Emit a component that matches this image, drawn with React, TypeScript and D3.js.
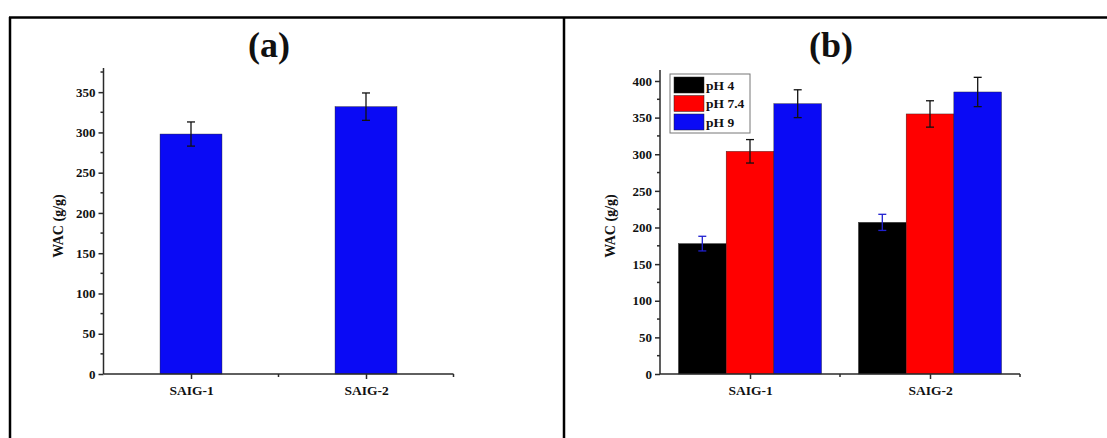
import React, { useEffect, useRef } from "react";
import * as d3 from "d3";

// panel (a): one series
const categories = ["SAIG-1", "SAIG-2"];
const wacA = [298, 332];
const errA = [15, 17];

// panel (b): three pH series
const phLabels = ["pH 4", "pH 7.4", "pH 9"];
const wacPH4 = [178, 207];
const errPH4 = [10, 11];
const wacPH74 = [304, 355];
const errPH74 = [16, 18];
const wacPH9 = [369, 385];
const errPH9 = [19, 20];

const yTicksA = [0, 50, 100, 150, 200, 250, 300, 350];
const yTicksB = [0, 50, 100, 150, 200, 250, 300, 350, 400];

const FONT = "'Liberation Serif', 'Times New Roman', serif";
const AXIS = "#2a2a2a";

type Series = { name: string; values: number[]; errs: number[]; color: string; errColor: string };

function InitializeSVG(svgRef: React.RefObject<SVGSVGElement | null>, width: number, height: number) {
  const svg = d3.select(svgRef.current);
  svg.selectAll("*").remove();
  svg.attr("width", width).attr("height", height);
  svg.append("rect").attr("width", width).attr("height", height).attr("fill", "#fff");
  return svg;
}

function DrawFrames(svg: any) {
  // panel borders
  const g = svg.append("g").attr("stroke", "#000").attr("stroke-width", 2.5);
  g.append("line").attr("x1", 9).attr("x2", 1107).attr("y1", 17.5).attr("y2", 17.5);
  g.append("line").attr("x1", 10).attr("x2", 10).attr("y1", 17).attr("y2", 438);
  g.append("line").attr("x1", 564).attr("x2", 564).attr("y1", 17).attr("y2", 438);
}

function DrawPanel(
  svg: any,
  opts: {
    xRange: [number, number];
    yMax: number;
    yTop: number;
    yTicks: number[];
    series: Series[];
    groupWidth: number;
    title: string;
    titleX: number;
    labelX: number;
  }
) {
  const y0 = 374;
  const x = d3.scaleLinear().domain([0.5, 2.5]).range(opts.xRange);
  const y = d3.scaleLinear().domain([0, opts.yMax]).range([y0, opts.yTop]);
  const g = svg.append("g");

  // bars
  const n = opts.series.length;
  const bw = opts.groupWidth / n;
  opts.series.forEach((s, si) => {
    s.values.forEach((v, ci) => {
      const left = ci + 1 - opts.groupWidth / 2 + si * bw;
      g.append("rect")
        .attr("x", x(left))
        .attr("y", y(v))
        .attr("width", x(left + bw) - x(left))
        .attr("height", y(0) - y(v))
        .attr("fill", s.color)
        .attr("stroke", "#222")
        .attr("stroke-width", 0.4);
    });
  });

  // error bars
  opts.series.forEach((s, si) => {
    s.values.forEach((v, ci) => {
      const cx = x(ci + 1 - opts.groupWidth / 2 + (si + 0.5) * bw);
      const e = s.errs[ci];
      const eg = g.append("g").attr("stroke", s.errColor).attr("stroke-width", 1.3);
      eg.append("line").attr("x1", cx).attr("x2", cx).attr("y1", y(v + e)).attr("y2", y(v - e));
      eg.append("line").attr("x1", cx - 4).attr("x2", cx + 4).attr("y1", y(v + e)).attr("y2", y(v + e));
      eg.append("line").attr("x1", cx - 4).attr("x2", cx + 4).attr("y1", y(v - e)).attr("y2", y(v - e));
    });
  });

  // y axis
  const yAxis = d3.axisLeft(y).tickValues(opts.yTicks).tickSize(5).tickPadding(3).tickFormat(d3.format("d"));
  const ya = g.append("g").attr("transform", `translate(${opts.xRange[0]},0)`).call(yAxis);
  ya.select(".domain").attr("d", `M0,${y0}V${opts.yTop}`);
  const minor = d3.range(25, opts.yMax, 50);
  ya.selectAll(".minor").data(minor).enter().append("line")
    .attr("x1", 0).attr("x2", -3).attr("y1", (d: number) => y(d)).attr("y2", (d: number) => y(d));

  // x axis
  const xAxis = d3.axisBottom(x).tickValues([1, 2]).tickSize(5).tickPadding(6)
    .tickFormat((d: any) => categories[(d as number) - 1]);
  const xa = g.append("g").attr("transform", `translate(0,${y0})`).call(xAxis);
  xa.select(".domain").attr("d", `M${opts.xRange[0]},0H${opts.xRange[1]}`);
  xa.selectAll(".minor").data([1.5, 2.5]).enter().append("line")
    .attr("x1", (d: number) => x(d)).attr("x2", (d: number) => x(d)).attr("y1", 0).attr("y2", 3);

  [ya, xa].forEach((a) => {
    a.selectAll("path, line").attr("stroke", AXIS).attr("stroke-width", 1.5);
    a.selectAll("text").attr("fill", "#111").attr("font-family", FONT).attr("font-weight", "bold");
  });
  ya.selectAll("text").attr("font-size", 13);
  xa.selectAll("text").attr("font-size", 13.5);

  // axis title
  g.append("text")
    .attr("transform", `translate(${opts.labelX},226) rotate(-90)`)
    .attr("text-anchor", "middle")
    .attr("dominant-baseline", "central")
    .attr("font-family", FONT).attr("font-weight", "bold").attr("font-size", 14)
    .attr("fill", "#111")
    .text("WAC (g/g)");

  // panel title
  g.append("text")
    .attr("x", opts.titleX).attr("y", 57)
    .attr("text-anchor", "middle")
    .attr("font-family", FONT).attr("font-weight", "bold").attr("font-size", 36)
    .attr("fill", "#111")
    .text(opts.title);

  return { x, y, g };
}

function DrawLegend(svg: any, series: Series[]) {
  const lg = svg.append("g").attr("transform", "translate(670,74)");
  lg.append("rect").attr("width", 80).attr("height", 59)
    .attr("fill", "#fff").attr("stroke", "#777").attr("stroke-width", 1);
  series.forEach((s, i) => {
    lg.append("rect").attr("x", 4).attr("y", 3 + i * 18.5).attr("width", 30).attr("height", 16)
      .attr("fill", s.color).attr("stroke", "#222").attr("stroke-width", 0.5);
    lg.append("text").attr("x", 36).attr("y", 11 + i * 18.5)
      .attr("dominant-baseline", "central")
      .attr("font-family", FONT).attr("font-weight", "bold").attr("font-size", 13.5)
      .attr("fill", "#111")
      .text(s.name);
  });
}

export default function App() {
  const width = 1107;
  const height = 438;
  const svgRef = useRef<SVGSVGElement>(null);

  useEffect(() => {
    const svg = InitializeSVG(svgRef, width, height);
    DrawFrames(svg);

    DrawPanel(svg, {
      xRange: [103.5, 453.5],
      yMax: 380,
      yTop: 68,
      yTicks: yTicksA,
      series: [{ name: "WAC", values: wacA, errs: errA, color: "#0a0af5", errColor: "#111" }],
      groupWidth: 0.354,
      title: "(a)",
      titleX: 269,
      labelX: 58,
    });

    const seriesB: Series[] = [
      { name: phLabels[0], values: wacPH4, errs: errPH4, color: "#000000", errColor: "#2020d0" },
      { name: phLabels[1], values: wacPH74, errs: errPH74, color: "#ff0000", errColor: "#111" },
      { name: phLabels[2], values: wacPH9, errs: errPH9, color: "#0a0af5", errColor: "#111" },
    ];
    DrawPanel(svg, {
      xRange: [660, 1020],
      yMax: 415,
      yTop: 70,
      yTicks: yTicksB,
      series: seriesB,
      groupWidth: 0.795,
      title: "(b)",
      titleX: 831,
      labelX: 610,
    });
    DrawLegend(svg, seriesB);
  }, []);

  return <svg ref={svgRef} style={{ position: "absolute", left: 0, top: 0 }} />;
}
